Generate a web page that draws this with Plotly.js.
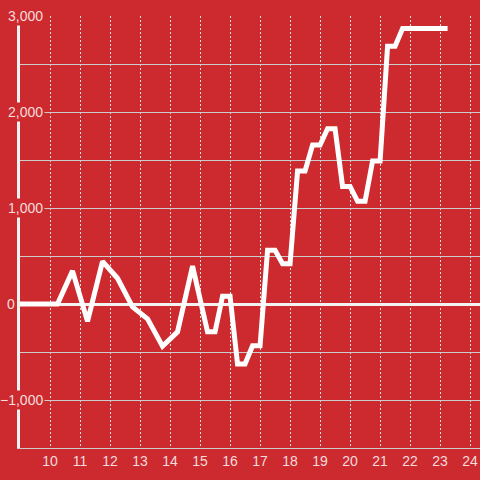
<!DOCTYPE html>
<html>
<head>
<meta charset="utf-8">
<script src="https://cdn.plot.ly/plotly-3.0.1.min.js"></script>
<style>
  html, body { margin: 0; padding: 0; background: #cc2a2f; }
  #chart { width: 480px; height: 480px; }
</style>
</head>
<body>
<div id="chart"></div>
<script>
// Data
const hours = [9, 10.25, 10.75, 11.25, 11.75, 12.25, 12.75, 13.25, 13.75, 14.25, 14.75,
  15.25, 15.5, 15.75, 16, 16.25, 16.5, 16.75, 17, 17.25, 17.5, 17.75, 18,
  18.25, 18.5, 18.75, 19, 19.25, 19.5, 19.75, 20, 20.25, 20.5, 20.75, 21,
  21.25, 21.5, 21.75, 23.25];
const values = [0, 0, 345, -180, 445, 268, -30, -155, -440, -290, 395,
  -290, -290, 80, 80, -625, -625, -435, -435, 560, 560, 420, 420,
  1385, 1385, 1655, 1655, 1825, 1825, 1225, 1225, 1070, 1070, 1490, 1490,
  2685, 2685, 2870, 2870];
const yTickValues = [3000, 2000, 1000, 0, -1000];
const yTickLabels = ["3,000", "2,000", "1,000", "0", "\u22121,000"];
const xTickValues = [10, 11, 12, 13, 14, 15, 16, 17, 18, 19, 20, 21, 22, 23, 24];

const bg = '#cc2a2f';
const labelColor = '#f6dcdc';
const plotLeft = 20, plotWidth = 460;

const annotations = yTickValues.map((v, i) => {
  const rightPx = v === 0 ? 16.5 : 45;
  return {
    xref: 'paper', yref: 'y',
    x: (rightPx - plotLeft) / plotWidth, y: v,
    xanchor: 'right', yanchor: 'middle',
    text: yTickLabels[i],
    showarrow: false,
    bgcolor: bg,
    borderpad: 1,
    font: { family: 'Liberation Sans, Arial, sans-serif', size: 14, color: labelColor }
  };
});

const trace = {
  x: hours, y: values,
  type: 'scatter', mode: 'lines',
  line: { color: '#ffffff', width: 5 },
  hoverinfo: 'skip'
};

const layout = {
  width: 480, height: 480,
  margin: { l: 20, r: 0, t: 16, b: 32, pad: 0 },
  paper_bgcolor: bg, plot_bgcolor: bg,
  showlegend: false,
  font: { family: 'Liberation Sans, Arial, sans-serif', size: 14, color: labelColor },
  xaxis: {
    range: [9, 24.33],
    tickmode: 'array', tickvals: xTickValues,
    showgrid: true, gridcolor: '#e2e2e2', gridwidth: 1, griddash: '2px,2px',
    zeroline: false,
    showline: true, linecolor: '#cccccc', linewidth: 1,
    ticks: '', tickfont: { size: 14, color: labelColor }
  },
  yaxis: {
    range: [-1500, 3000],
    dtick: 500, tick0: 0,
    showgrid: true, gridcolor: '#cccccc', gridwidth: 1,
    zeroline: true, zerolinecolor: '#f2f2f2', zerolinewidth: 3,
    showline: true, linecolor: '#f2f2f2', linewidth: 3,
    showticklabels: false, ticks: ''
  },
  annotations: annotations
};

Plotly.newPlot('chart', [trace], layout, { staticPlot: true, displayModeBar: false });
</script>
</body>
</html>
